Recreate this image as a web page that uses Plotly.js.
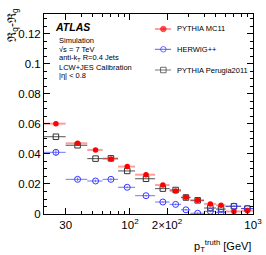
<!DOCTYPE html>
<html><head><meta charset="utf-8">
<script src="https://cdn.plot.ly/plotly-3.0.1.min.js"></script>
<style>html,body{margin:0;padding:0;background:#fff}#c{width:266px;height:255px}</style>
</head><body><div id="c"></div>
<script>
const binLow  = [20, 30, 45, 60, 80, 110, 160, 210, 260, 310, 400, 500, 600, 800];
const binHigh = [30, 45, 60, 80, 110, 160, 210, 260, 310, 400, 500, 600, 800, 1000];
const pythiaMC11 = [0.0602, 0.0471, 0.0427, 0.0367, 0.0316, 0.0262, 0.0193, 0.0153, 0.0111, 0.0091, 0.0067, 0.0058, 0.0017, 0.0022];
const herwig     = [0.0411, 0.0231, 0.0220, 0.0231, 0.0178, 0.0122, 0.0080, 0.0064, 0.0028, 0.0005, 0.0018, 0.0011, 0.0052, 0.0037];
const perugia    = [0.0515, 0.0458, 0.0369, 0.0371, 0.0287, 0.0235, 0.0169, 0.0160, 0.0110, 0.0091, 0.0040, 0.0033, 0.0051, 0.0036];
const herwigErr  = [0.0022, 0.0012, 0.0008, 0.0008, 0.0006, 0.0006, 0.0006, 0.0006, 0.0006, 0.0006, 0.0006, 0.0006, 0.0006, 0.0006];
const seriesNames = ['PYTHIA MC11', 'HERWIG++', 'PYTHIA Perugia2011'];
const xTickVals = [30, 100, 200, 1000];
const xTickText = ['30', '10<sup>2</sup>', '2×10<sup>2</sup>', '10<sup>3</sup>'];

const xc = binLow.map((l, i) => (l + binHigh[i]) / 2);
const ep = xc.map((c, i) => binHigh[i] - c);
const em = xc.map((c, i) => c - binLow[i]);

function tr(y, name, mk, errCol, errW, ey) {
  const t = {x: xc, y: y, name: name, type: 'scatter', mode: 'markers', marker: mk,
    error_x: {type: 'data', symmetric: false, array: ep, arrayminus: em, width: 0, color: errCol, thickness: errW},
    showlegend: false, cliponaxis: true};
  if (ey) t.error_y = {type: 'data', array: ey, width: 0, color: errCol, thickness: 1};
  return t;
}
const font = 'Liberation Sans, Arial, Helvetica, sans-serif';
const cols = ['#ff0000', '#2b2bff', '#333333'];
const data = [
  tr(perugia, seriesNames[2], {symbol: 'square-open', size: 5.5, color: '#333', line: {width: 1, color: '#333'}}, 'rgba(40,40,40,0.8)', 1),
  tr(herwig, seriesNames[1], {symbol: 'circle-open', size: 6, color: '#3535ff', line: {width: 1, color: '#3535ff'}}, 'rgba(70,70,255,0.75)', 1, herwigErr),
  tr(pythiaMC11, seriesNames[0], {symbol: 'circle', size: 5.5, color: '#ff0000', line: {width: 0}}, 'rgba(255,60,60,0.5)', 2),
];
// legend samples (on an overlay paper-like axis)
const legY = [0.925, 0.8235, 0.72];
const legSym = ['circle', 'circle-open', 'square-open'];
const legLine = ['#ff4040', '#5a5aff', '#777'];
for (let i = 0; i < 3; i++) {
  data.push({x: [0.531, 0.571, 0.608], y: [legY[i], legY[i], legY[i]], xaxis: 'x2', yaxis: 'y2',
    type: 'scatter', mode: 'lines+markers', line: {color: legLine[i], width: 1},
    marker: {symbol: legSym[i], size: [0, 5.5, 0], color: cols[i], line: {width: 1, color: cols[i]}},
    showlegend: false, hoverinfo: 'skip'});
}
const ann = [];
function A(x, y, text, opts) { ann.push(Object.assign({xref: 'paper', yref: 'paper', x: x, y: y, text: text, showarrow: false, xanchor: 'left', yanchor: 'middle', font: {family: font, size: 7.5, color: '#000'}}, opts || {})); }
A(0.045, 0.937, '<b><i>ATLAS</i></b>', {font: {family: font, size: 10.5, color: '#000'}});
A(0.064, 0.87, 'Simulation');
A(0.064, 0.825, '√s = 7 TeV');
A(0.064, 0.7815, 'anti-k<sub>T</sub> R=0.4 Jets');
A(0.064, 0.7335, 'LCW+JES Calibration');
A(0.064, 0.6915, '|η| < 0.8');
for (let i = 0; i < 3; i++) A(0.628, legY[i], seriesNames[i]);
A(1.0, -0.11, 'p<sub>T</sub><sup>truth</sup> [GeV]', {xanchor: 'right', yanchor: 'top', font: {family: font, size: 11, color: '#000'}});
A(-0.15, 1.04, 'ℜ<sub>q</sub>-ℜ<sub>g</sub>', {textangle: -90, xanchor: 'center', yanchor: 'top', font: {family: font, size: 12, color: '#000'}});

const layout = {
  width: 266, height: 255, margin: {l: 44, r: 13, t: 14, b: 41},
  paper_bgcolor: '#fff', plot_bgcolor: '#fff', font: {family: font, size: 11.5, color: '#000'},
  xaxis: {type: 'log', range: [Math.log10(20), 3], showline: true, linecolor: '#000', linewidth: 1, mirror: 'ticks',
    ticks: 'inside', ticklen: 6, tickcolor: '#000', tickmode: 'array', tickvals: xTickVals, ticktext: xTickText,
    showgrid: false, zeroline: false, tickfont: {size: 11.5},
    minor: {tickmode: 'array', tickvals: [20, 40, 50, 60, 70, 80, 90, 300, 400, 500, 600, 700, 800, 900], ticks: 'inside', ticklen: 3, tickcolor: '#000', showgrid: false}},
  yaxis: {range: [0, 0.1333], showline: true, linecolor: '#000', linewidth: 1, mirror: 'ticks',
    ticks: 'inside', ticklen: 6, tickcolor: '#000', dtick: 0.02, tick0: 0, showgrid: false, zeroline: false,
    tickfont: {size: 11.5},
    minor: {dtick: 0.005, ticks: 'inside', ticklen: 3, tickcolor: '#000', showgrid: false}},
  xaxis2: {overlaying: 'x', range: [0, 1], visible: false, anchor: 'y2'},
  yaxis2: {overlaying: 'y', range: [0, 1], visible: false, anchor: 'x2'},
  annotations: ann, showlegend: false
};
Plotly.newPlot('c', data, layout, {staticPlot: true, displayModeBar: false});
</script></body></html>
